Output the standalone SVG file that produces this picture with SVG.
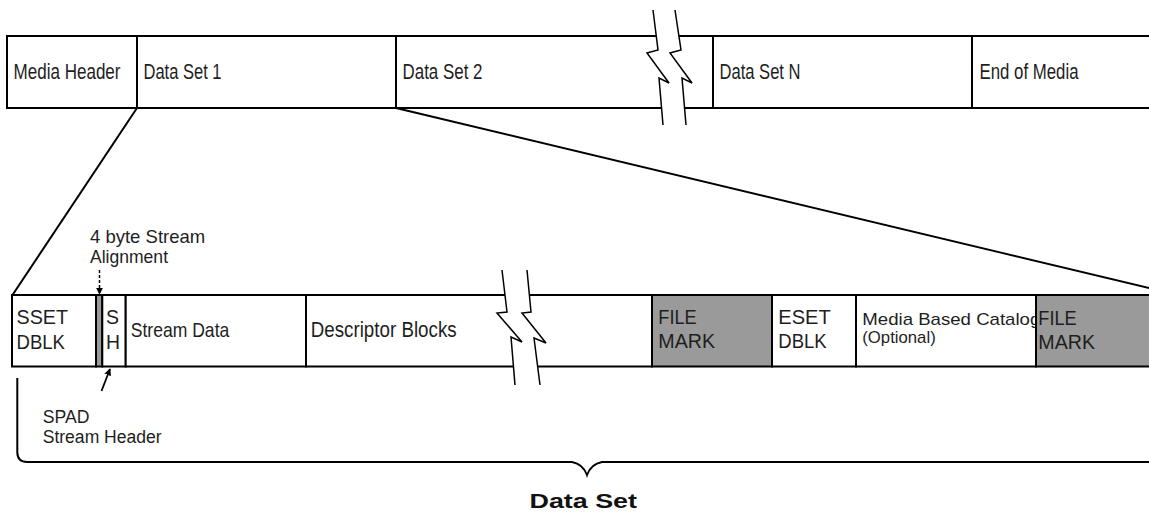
<svg xmlns="http://www.w3.org/2000/svg" width="1149" height="512" viewBox="0 0 1149 512">
<style>
.cell{fill:#fff;stroke:#000;stroke-width:2}
.gray{fill:#9a9a9a;stroke:#000;stroke-width:2}
.t{font-family:"Liberation Sans",Arial,sans-serif;fill:#1e1e1e}
.t22{font-size:22px}
.t21{font-size:21px}
.t18s{font-size:18px}
.t18{font-size:18.5px}
.t17{font-size:17px}
.b{font-family:"Liberation Sans",Arial,sans-serif;font-weight:bold;font-size:21px;fill:#111}
.ln{fill:none;stroke:#000;stroke-width:2}
.zz{fill:none;stroke:#000;stroke-width:1.5;stroke-linejoin:miter}
.wf{fill:#fff;stroke:none}
</style>
<defs>
<marker id="ah" viewBox="0 0 10 10" refX="9" refY="5" markerWidth="7" markerHeight="7" markerUnits="userSpaceOnUse" orient="auto">
<path d="M0,0 L10,5 L0,10 z" fill="#000"/>
</marker>
</defs>
<rect width="1149" height="512" fill="#fff"/>

<!-- Top bar -->
<g id="media-header"><rect class="cell" x="7" y="36" width="130" height="72"/><text class="t t22" x="13.5" y="79" textLength="107" lengthAdjust="spacingAndGlyphs">Media Header</text></g>
<g id="data-set-1"><rect class="cell" x="137" y="36" width="259" height="72"/><text class="t t22" x="143.5" y="79" textLength="78" lengthAdjust="spacingAndGlyphs">Data Set 1</text></g>
<g id="data-set-2"><rect class="cell" x="396" y="36" width="317" height="72"/><text class="t t22" x="402.5" y="79" textLength="80" lengthAdjust="spacingAndGlyphs">Data Set 2</text></g>
<g id="data-set-n"><rect class="cell" x="713" y="36" width="259" height="72"/><text class="t t22" x="719.5" y="79" textLength="81" lengthAdjust="spacingAndGlyphs">Data Set N</text></g>
<g id="end-of-media"><rect class="cell" x="972" y="36" width="190" height="72"/><text class="t t22" x="979.5" y="79" textLength="99" lengthAdjust="spacingAndGlyphs">End of Media</text></g>

<!-- Lower bar -->
<g id="sset-dblk"><rect class="cell" x="12" y="295" width="84" height="71.5"/><text class="t t21" x="16.5" y="324.3" textLength="51.5" lengthAdjust="spacingAndGlyphs">SSET</text><text class="t t21" x="16.5" y="349" textLength="48.5" lengthAdjust="spacingAndGlyphs">DBLK</text></g>
<g id="alignment"><rect class="gray" x="96" y="295" width="6.3" height="71.5"/></g>
<g id="sh"><rect class="cell" x="102.3" y="295" width="23.4" height="71.5"/><text class="t t21" x="106" y="324.3" textLength="13" lengthAdjust="spacingAndGlyphs">S</text><text class="t t21" x="106" y="348.7" textLength="14" lengthAdjust="spacingAndGlyphs">H</text></g>
<g id="stream-data"><rect class="cell" x="125.7" y="295" width="180.3" height="71.5"/><text class="t t21" x="130.7" y="337.3" textLength="98.6" lengthAdjust="spacingAndGlyphs">Stream Data</text></g>
<g id="descriptor-blocks"><rect class="cell" x="306" y="295" width="346" height="71.5"/><text class="t t22" x="310.7" y="336.7" textLength="146" lengthAdjust="spacingAndGlyphs">Descriptor Blocks</text></g>
<g id="file-mark-1"><rect class="gray" x="652" y="295" width="120" height="71.5"/><text class="t t21" x="658.3" y="324.3" textLength="38.4" lengthAdjust="spacingAndGlyphs">FILE</text><text class="t t21" x="658.3" y="348.3" textLength="56.7" lengthAdjust="spacingAndGlyphs">MARK</text></g>
<g id="eset-dblk"><rect class="cell" x="772" y="295" width="84" height="71.5"/><text class="t t21" x="778.3" y="324" textLength="52.4" lengthAdjust="spacingAndGlyphs">ESET</text><text class="t t21" x="778.3" y="347.7" textLength="48.4" lengthAdjust="spacingAndGlyphs">DBLK</text></g>
<g id="media-based-catalog"><rect class="cell" x="856" y="295" width="180" height="71.5"/><text class="t t17" x="862.3" y="325" textLength="178" lengthAdjust="spacingAndGlyphs">Media Based Catalog</text><text class="t t17" x="862.3" y="342.5" textLength="73.4" lengthAdjust="spacingAndGlyphs">(Optional)</text></g>
<g id="file-mark-2"><rect class="gray" x="1036" y="295" width="130" height="71.5"/><text class="t t21" x="1038.3" y="325" textLength="38.4" lengthAdjust="spacingAndGlyphs">FILE</text><text class="t t21" x="1038.3" y="349" textLength="56.7" lengthAdjust="spacingAndGlyphs">MARK</text></g>

<!-- Break marks -->
<g id="break-top">
<polygon class="wf" points="653,10 658,50 647,53 669,83 659,78 663,125 686,125 682,78 692,83 670,53 681,50 675,10"/>
<polyline class="zz" points="653,10 658,50 647,53 669,83 659,78 663,125"/>
<polyline class="zz" points="675,10 681,50 670,53 692,83 682,78 686,125"/>
</g>
<g id="break-bottom">
<polygon class="wf" points="502,270 507,312 497,313 522,342 511,337 515,385 540,385 534,338 546,343 522,313 531,312 527,270"/>
<polyline class="zz" points="502,270 507,312 497,313 522,342 511,337 515,385"/>
<polyline class="zz" points="527,270 531,312 522,313 546,343 534,338 540,385"/>
</g>

<!-- Labels -->
<g id="label-alignment"><text class="t t18" x="90" y="243.3">4 byte Stream</text><text class="t t18" x="90" y="262.8" textLength="78" lengthAdjust="spacingAndGlyphs">Alignment</text></g>
<g id="label-spad"><text class="t t18s" x="42.7" y="422.5" textLength="46.7" lengthAdjust="spacingAndGlyphs">SPAD</text><text class="t t18s" x="42.7" y="442.5" textLength="119" lengthAdjust="spacingAndGlyphs">Stream Header</text></g>
<g id="label-data-set"><text class="b" x="529.5" y="507.5" textLength="107.5" lengthAdjust="spacingAndGlyphs">Data Set</text></g>

<!-- Connectors -->
<g id="connectors">
<line class="ln" x1="137" y1="108" x2="12.5" y2="295"/>
<line class="ln" x1="396" y1="108" x2="1160" y2="290.6"/>
<line x1="99.5" y1="270" x2="99.5" y2="294" stroke="#000" stroke-width="1.5" stroke-dasharray="3,2" marker-end="url(#ah)"/>
<line x1="101.5" y1="391" x2="110" y2="369" stroke="#000" stroke-width="1.8" marker-end="url(#ah)"/>
<path class="ln" d="M17.3,378 L17.3,452 Q17.3,462 27.3,462 L572,462 Q583,464 587,475 Q591,464 602,462 L1149,462"/>
</g>
</svg>
